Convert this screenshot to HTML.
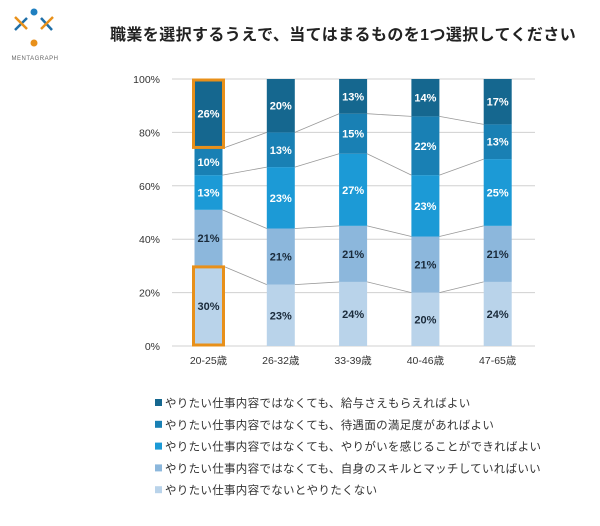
<!DOCTYPE html>
<html><head><meta charset="utf-8">
<style>
body{margin:0;background:#fff;width:600px;height:521px;overflow:hidden;font-family:"Liberation Sans","Noto Sans CJK JP",sans-serif;}
svg text{font-family:"Liberation Sans","Noto Sans CJK JP",sans-serif;}
</style></head>
<body>
<svg id="chart" width="600" height="521" xmlns="http://www.w3.org/2000/svg">
  <g>
    <line x1="15" y1="30" x2="27" y2="18" stroke="#1f6fa8" stroke-width="2.5"/>
    <line x1="41" y1="18" x2="52" y2="30" stroke="#1f6fa8" stroke-width="2.5"/>
    <line x1="15" y1="17" x2="27" y2="29" stroke="#e8901a" stroke-width="2.5"/>
    <line x1="41" y1="29" x2="53" y2="17" stroke="#e8901a" stroke-width="2.5"/>
    <circle cx="34" cy="12" r="3.5" fill="#1f7fc0"/>
    <circle cx="34" cy="43" r="3.5" fill="#e8901a"/>
    <text x="35" y="60" font-size="6" fill="#666" text-anchor="middle" letter-spacing="0.5">MENTAGRAPH</text>
  </g>
  <text x="110" y="40" font-size="16" font-weight="bold" fill="#222" letter-spacing="0.4">職業を選択するうえで、当てはまるものを1つ選択してください</text>
  <g id="grid"></g>
  <g id="links"></g>
  <g id="bars"></g>
  <g id="legend"></g>
</svg>
<script>
const categories=["20-25歳","26-32歳","33-39歳","40-46歳","47-65歳"];
const s1=[30,23,24,20,24]; // やりたい仕事内容でないとやりたくない
const s2=[21,21,21,21,21]; // スキル
const s3=[13,23,27,23,25]; // やりがい
const s4=[10,13,15,22,13]; // 待遇面
const s5=[26,20,13,14,17]; // 給与
const yTicks=[0,20,40,60,80,100];
const seriesNames=["やりたい仕事内容ではなくても、給与さえもらえればよい","やりたい仕事内容ではなくても、待遇面の満足度があればよい","やりたい仕事内容ではなくても、やりがいを感じることができればよい","やりたい仕事内容ではなくても、自身のスキルとマッチしていればいい","やりたい仕事内容でないとやりたくない"];
const series=[s1,s2,s3,s4,s5];
const colors=["#b9d3ea","#8cb7dc","#1c9ad6","#1980b4","#15678f"];
const labelColors=["#1a2a3a","#1a2a3a","#fff","#fff","#fff"];
const NS="http://www.w3.org/2000/svg";
const y0=346,y1=79,x0=208.5,dx=72.3,bw=28;
const Y=v=>y0-(y0-y1)*v/100;
const X=i=>x0+dx*i;
function mk(t,a,p){const e=document.createElementNS(NS,t);for(const k in a)e.setAttribute(k,a[k]);p.appendChild(e);return e;}
const grid=document.getElementById('grid');
yTicks.forEach(t=>{
  const l=mk('line',{x1:172,x2:535,y1:Y(t),y2:Y(t),stroke:'#d0d0d0','stroke-width':1},grid);
  
  
  const tx=mk('text',{x:160,y:Y(t)+4,'font-size':10.5,'text-anchor':'end',fill:'#333'},grid);
  tx.textContent=t+'%';
  
  
});
const bars=document.getElementById('bars'),links=document.getElementById('links');
const cum=categories.map((c,i)=>{let s=0;const r=[0];series.forEach(a=>{s+=a[i];r.push(s);});return r;});
for(let i=0;i<categories.length-1;i++){
  for(let k=1;k<series.length;k++){
    const l=mk('line',{x1:X(i)+bw/2,y1:Y(cum[i][k]),x2:X(i+1)-bw/2,y2:Y(cum[i+1][k]),stroke:'#999','stroke-width':0.8},links);
    
    
  }
}
categories.forEach((c,i)=>{
  series.forEach((a,k)=>{
    const top=Y(cum[i][k+1]),bot=Y(cum[i][k]);
    const r=mk('rect',{x:X(i)-bw/2,y:top,width:bw,height:bot-top,fill:colors[k]},bars);
    
    
    const t=mk('text',{x:X(i),y:(top+bot)/2+4,'font-size':11,'font-weight':'bold','text-anchor':'middle',fill:labelColors[k]},bars);
    t.textContent=a[i]+'%';
    
    
  });
  const t=mk('text',{x:X(i),y:364,'font-size':10.5,'text-anchor':'middle',fill:'#333'},bars);
  t.textContent=c;
  
  
});
[0,4].forEach(k=>{
  const top=Y(cum[0][k+1]),bot=Y(cum[0][k]);
  const h=mk('rect',{x:X(0)-bw/2-1,y:top+1,width:bw+2,height:bot-top-2,fill:'none',stroke:'#e8901a','stroke-width':3},bars);
  
  
});
const lg=document.getElementById('legend');
seriesNames.forEach((n,j)=>{
  const k=series.length-1-j;const y=403+j*21.8;
  const r=mk('rect',{x:155,y:y-4,width:7,height:7,fill:colors[k]},lg);
  
  
  const t=mk('text',{x:165,y:y+4,'font-size':11.5,fill:'#333','letter-spacing':0.3},lg);
  t.textContent=n;
  
  
});
</script>
</body></html>
